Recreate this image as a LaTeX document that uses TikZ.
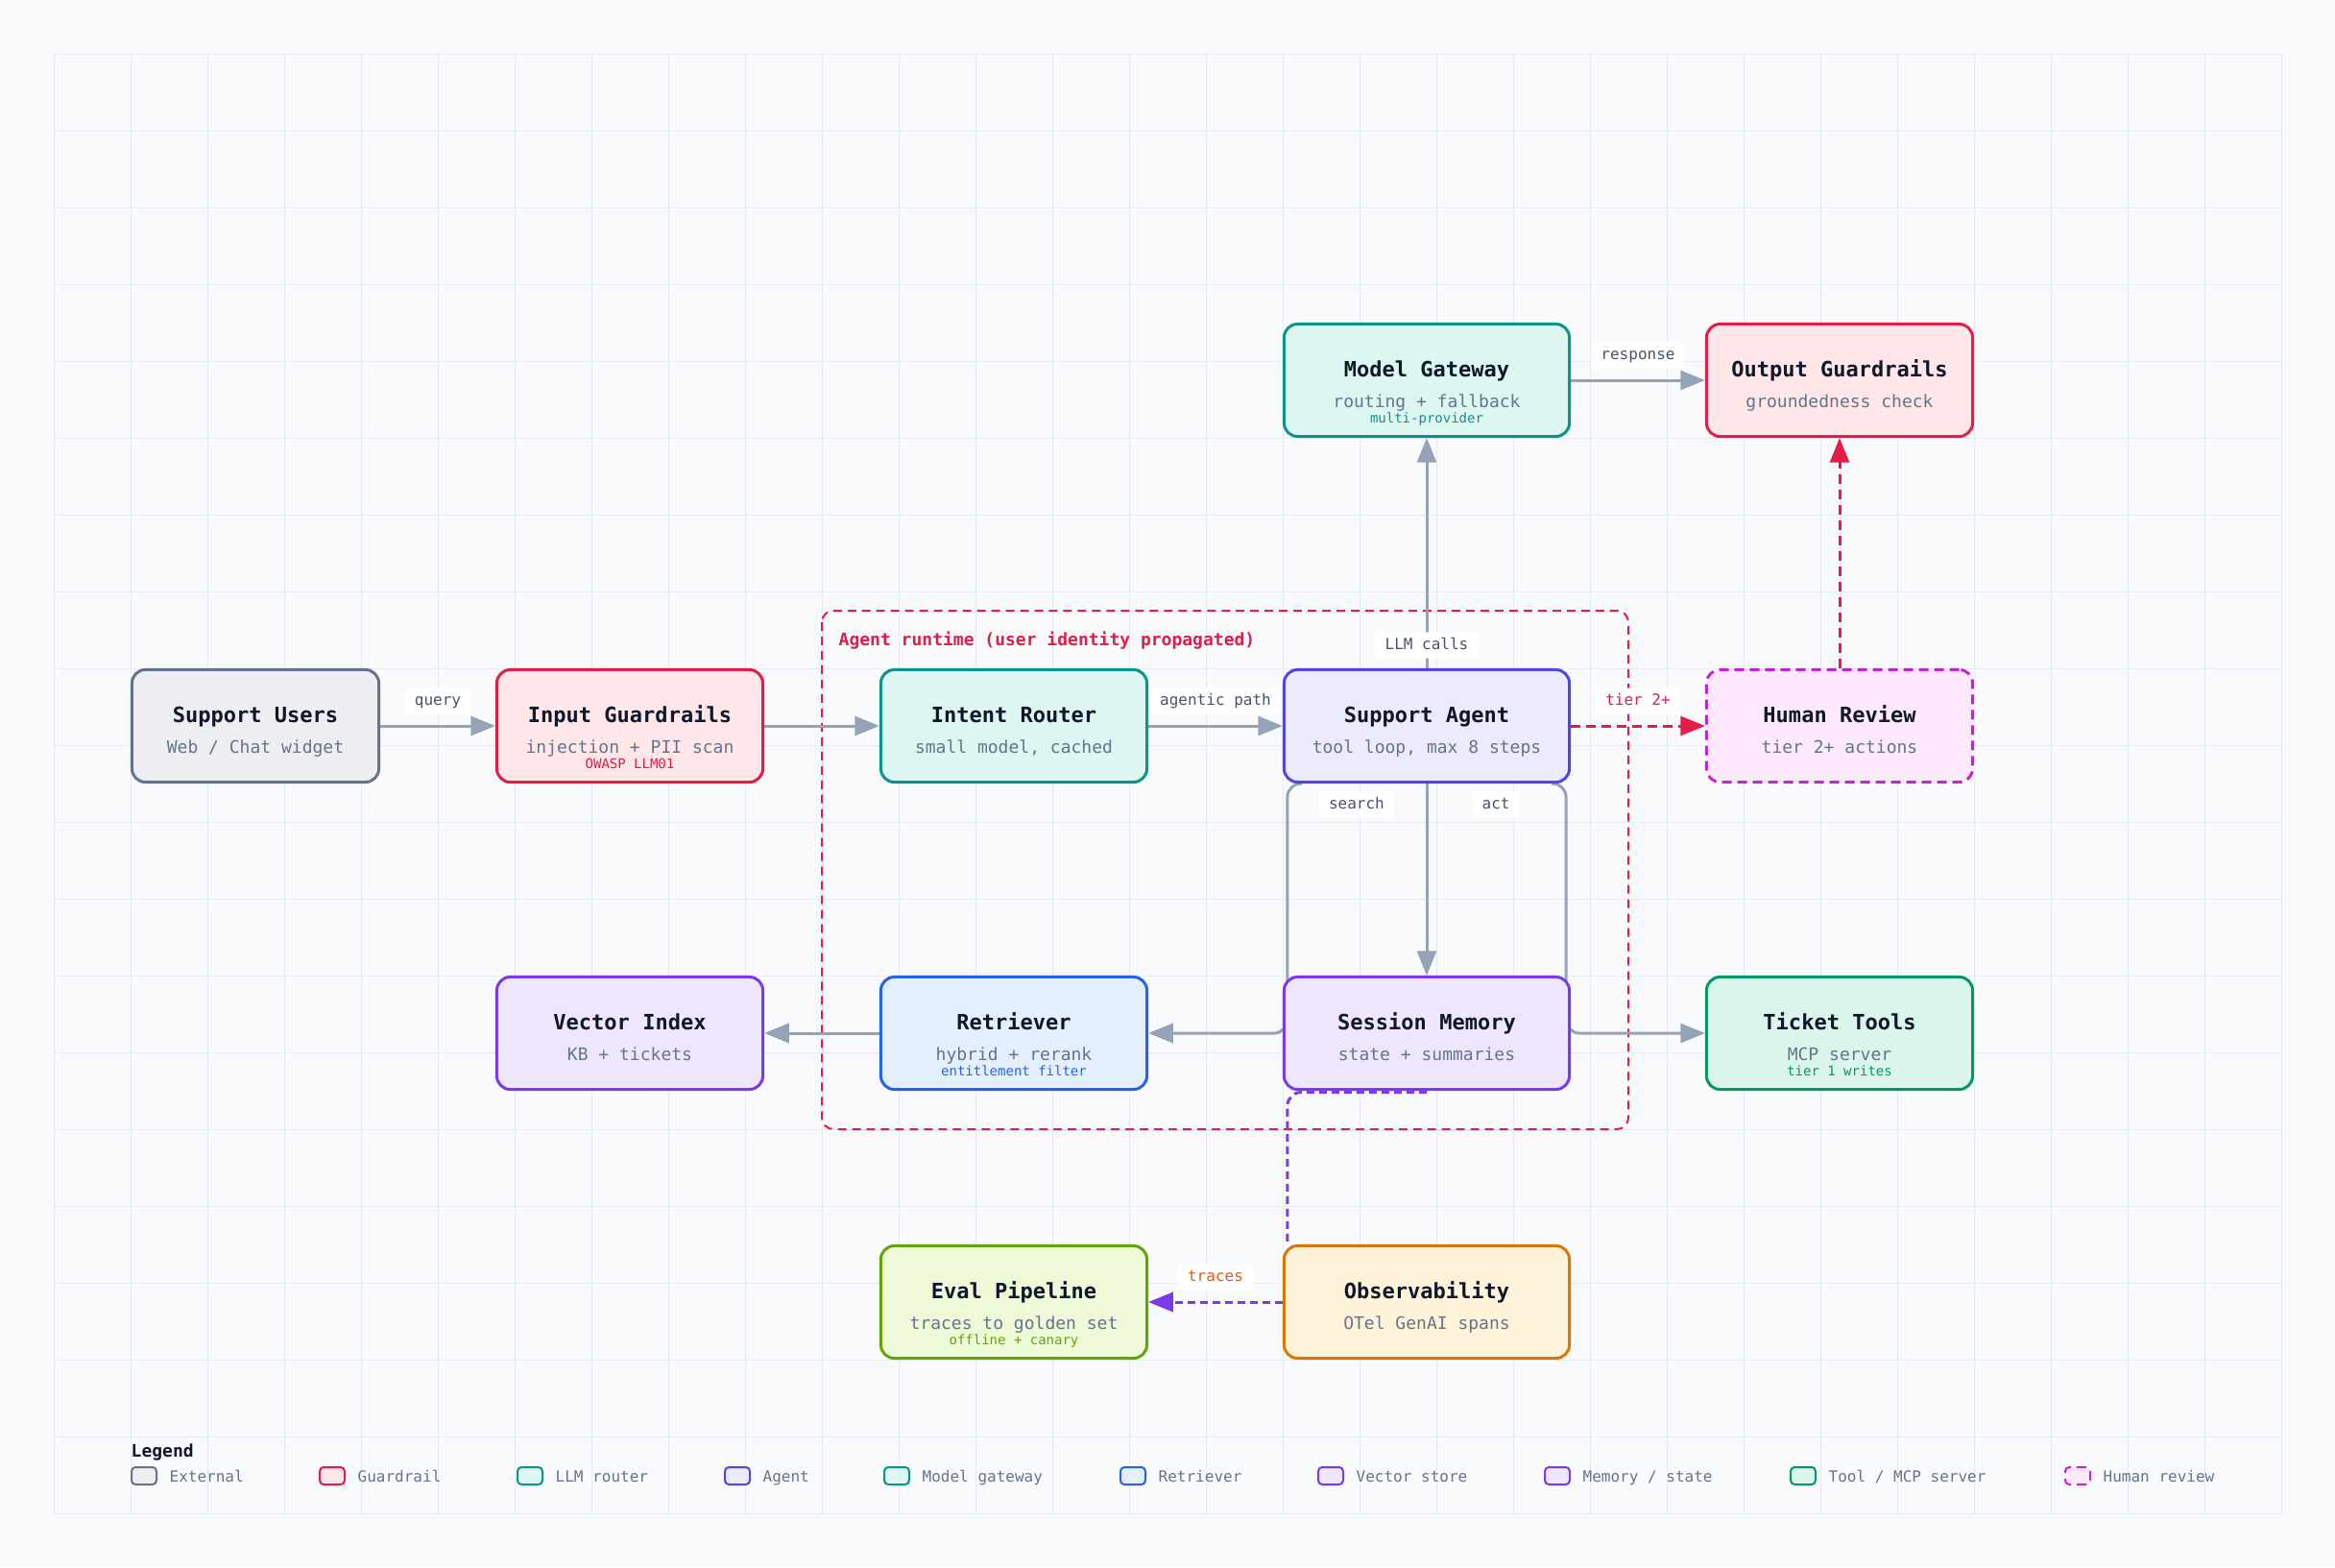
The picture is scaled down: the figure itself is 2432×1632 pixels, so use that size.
\documentclass[tikz,border=0pt]{standalone}
\usepackage{fontspec}
\setmonofont{DejaVu Sans Mono}
\usetikzlibrary{positioning,calc,arrows.meta}

\definecolor{bgcol}{HTML}{F8FAFC}
\definecolor{gridcol}{HTML}{E8ECF2}
\definecolor{titlecol}{HTML}{0F172A}
\definecolor{subcol}{HTML}{64748B}
\definecolor{lblcol}{HTML}{475569}
\definecolor{edgecol}{HTML}{94A3B8}
\definecolor{traceslbl}{HTML}{EA580C}
\definecolor{extline}{HTML}{64748B}   \definecolor{extfill}{HTML}{ECEEF2}
\definecolor{guardline}{HTML}{E11D48} \definecolor{guardfill}{HTML}{FFE6E8}
\definecolor{llmline}{HTML}{0D9488}   \definecolor{llmfill}{HTML}{DDF6F2}
\definecolor{agentline}{HTML}{4F46E5} \definecolor{agentfill}{HTML}{EBEBFD}
\definecolor{retline}{HTML}{2563EB}   \definecolor{retfill}{HTML}{E3EEFF}
\definecolor{vecline}{HTML}{7C3AED}   \definecolor{vecfill}{HTML}{EEE6FD}
\definecolor{memline}{HTML}{7C3AED}   \definecolor{memfill}{HTML}{EEE6FD}
\definecolor{toolline}{HTML}{059669}  \definecolor{toolfill}{HTML}{DAF5EB}
\definecolor{humanline}{HTML}{C026D3} \definecolor{humanfill}{HTML}{FDE9FB}
\definecolor{obsline}{HTML}{D97706}   \definecolor{obsfill}{HTML}{FEF3D9}
\definecolor{evalline}{HTML}{65A30D}  \definecolor{evalfill}{HTML}{EDF9D7}

\pgfdeclarelayer{back}
\pgfdeclarelayer{edges}
\pgfsetlayers{back,edges,main}

% name, kind, width, centre, title, subtitle, tag
\newcommand{\comp}[7]{%
  \node[#2box, minimum width=#3] (#1) at (#4) {};
  \node[boxtitle] (#1-t) at ($(#1)+(0,-4)$) {#5};
  \node[boxsub] (#1-s) at ($(#1)+(0,28)$) {#6};
  \def\comptag{#7}%
  \ifx\comptag\empty\else
    \node[boxtag, text=#2line] (#1-g) at ($(#1)+(0,44)$) {#7};
  \fi}

\begin{document}
\begin{tikzpicture}[x=0.01cm, y=-0.01cm,
    box/.style = {draw, rounded corners=4pt, line width=0.85pt, minimum height=1.17cm, inner sep=0pt},
    extbox/.style = {box, draw=extline, fill=extfill},
    guardbox/.style = {box, draw=guardline, fill=guardfill},
    llmbox/.style = {box, draw=llmline, fill=llmfill},
    agentbox/.style = {box, draw=agentline, fill=agentfill},
    retbox/.style = {box, draw=retline, fill=retfill},
    vecbox/.style = {box, draw=vecline, fill=vecfill},
    membox/.style = {box, draw=memline, fill=memfill},
    toolbox/.style = {box, draw=toolline, fill=toolfill},
    humanbox/.style = {box, draw=humanline, fill=humanfill, dash pattern=on 2.85pt off 1.7pt},
    obsbox/.style = {box, draw=obsline, fill=obsfill},
    evalbox/.style = {box, draw=evalline, fill=evalfill},
    boxtitle/.style = {anchor=base, inner sep=0pt, text=titlecol, font=\ttfamily\bfseries\fontsize{6.26pt}{7pt}\selectfont},
    boxsub/.style = {anchor=base, inner sep=0pt, text=subcol, font=\ttfamily\fontsize{5.12pt}{6pt}\selectfont},
    boxtag/.style = {anchor=base, inner sep=0pt, font=\ttfamily\fontsize{3.98pt}{5pt}\selectfont},
    lbl/.style = {fill=white, rounded corners=1.2pt, inner xsep=2.9pt, inner ysep=0pt, minimum height=7.7pt,
                  text height=3.4pt, text depth=0.9pt, text=lblcol, font=\ttfamily\fontsize{4.55pt}{5pt}\selectfont},
    flow/.style = {draw=edgecol, line width=0.85pt, -{Triangle[length=7.3pt, width=5.7pt]}},
    tierflow/.style = {draw=guardline, line width=0.85pt, dash pattern=on 2.85pt off 1.7pt, -{Triangle[length=7.3pt, width=5.7pt]}},
    traceflow/.style = {draw=vecline, line width=0.85pt, dash pattern=on 2.3pt off 1.4pt},
    legtext/.style = {anchor=base west, inner sep=0pt, text=subcol, font=\ttfamily\fontsize{4.55pt}{5pt}\selectfont}]

    \useasboundingbox (0,0) rectangle (2432,1632);

    \begin{pgfonlayer}{back}
        \fill[bgcol] (0,0) rectangle (2432,1632);
        \foreach \x in {56,136,...,2376} \draw[gridcol, line width=0.28pt] (\x,56) -- (\x,1576);
        \foreach \y in {56,136,...,1576} \draw[gridcol, line width=0.28pt] (56,\y) -- (2376,\y);
        % agent runtime boundary
        \draw[guardline, line width=0.57pt, dash pattern=on 2.56pt off 1.7pt, rounded corners=3.4pt]
            (856,636) rectangle (1696,1176);
        \node[anchor=base west, inner sep=0pt, text=guardline, font=\ttfamily\bfseries\fontsize{5.12pt}{6pt}\selectfont]
            (runtime) at (873,672) {Agent runtime (user identity propagated)};
    \end{pgfonlayer}

    \comp{users}{ext}{2.57cm}{266,756}{Support Users}{Web / Chat widget}{}
    \comp{ing}{guard}{2.77cm}{656,756}{Input Guardrails}{injection + PII scan}{OWASP LLM01}
    \comp{router}{llm}{2.77cm}{1056,756}{Intent Router}{small model, cached}{}
    \comp{agent}{agent}{2.97cm}{1486,756}{Support Agent}{tool loop, max 8 steps}{}
    \comp{human}{human}{2.77cm}{1916,756}{Human Review}{tier 2+ actions}{}
    \comp{gw}{llm}{2.97cm}{1486,396}{Model Gateway}{routing + fallback}{multi-provider}
    \comp{outg}{guard}{2.77cm}{1916,396}{Output Guardrails}{groundedness check}{}
    \comp{vec}{vec}{2.77cm}{656,1076}{Vector Index}{KB + tickets}{}
    \comp{ret}{ret}{2.77cm}{1056,1076}{Retriever}{hybrid + rerank}{entitlement filter}
    \comp{mem}{mem}{2.97cm}{1486,1076}{Session Memory}{state + summaries}{}
    \comp{tools}{tool}{2.77cm}{1916,1076}{Ticket Tools}{MCP server}{tier 1 writes}
    \comp{eval}{eval}{2.77cm}{1056,1356}{Eval Pipeline}{traces to golden set}{offline + canary}
    \comp{obs}{obs}{2.97cm}{1486,1356}{Observability}{OTel GenAI spans}{}

    \begin{pgfonlayer}{edges}
        \draw[flow] (users) -- node[lbl, above=3.1pt] (query) {query} (ing);
        \draw[flow] (ing) -- (router);
        \draw[flow] (router) -- node[lbl, above=3.1pt] (agentic) {agentic path} (agent);
        \draw[flow] (agent) -- node[lbl, pos=0.1] (llmcalls) {LLM calls} (gw);
        \draw[flow] (gw) -- node[lbl, above=3.1pt] (response) {response} (outg);
        \draw[flow] (agent) -- (mem);
        \draw[flow, rounded corners=4pt] ($(agent.south west)+(20,0)$) -| ($(mem.west)+(5,0)$) -- (ret);
        \draw[flow, rounded corners=4pt] ($(agent.south east)+(-20,0)$) -| ($(mem.east)+(-5,0)$) -- (tools);
        \node[lbl] (search) at ($(agent.south west)+(77,22)$) {search};
        \node[lbl] (act) at ($(agent.south east)+(-78,22)$) {act};
        \draw[flow] (ret) -- (vec);
        \draw[tierflow] (agent) -- node[lbl, above=3.1pt, text=guardline] (tier) {tier 2+} (human);
        \draw[tierflow] (human) -- (outg);
        \draw[traceflow, rounded corners=4pt] ($(mem.south)+(0,1.5)$) -| ($(obs.north west)+(5,0)$);
        \draw[traceflow, -{Triangle[length=7.3pt, width=5.7pt]}] (obs) -- node[lbl, above=3.1pt, text=traceslbl] (traces) {traces} (eval);
    \end{pgfonlayer}

    % legend
    \node[anchor=base west, inner sep=0pt, text=titlecol, font=\ttfamily\bfseries\fontsize{5.12pt}{6pt}\selectfont]
        (legend) at (136,1517) {Legend};
    \foreach \k/\x/\t in {ext/136/External, guard/332/Guardrail, llm/538/LLM router, agent/754/Agent,
                          llm/920/Model gateway, ret/1166/Retriever, vec/1372/Vector store,
                          mem/1608/{Memory / state}, tool/1864/{Tool / MCP server}, human/2150/Human review} {
        \node[\k box, anchor=west, rounded corners=1.2pt, line width=0.57pt,
              minimum width=0.26cm, minimum height=0.18cm] (sw-\x) at (\x,1537) {};
        \node[legtext] (lt-\x) at (\x+40,1543) {\t};
    }
\end{tikzpicture}
\end{document}
